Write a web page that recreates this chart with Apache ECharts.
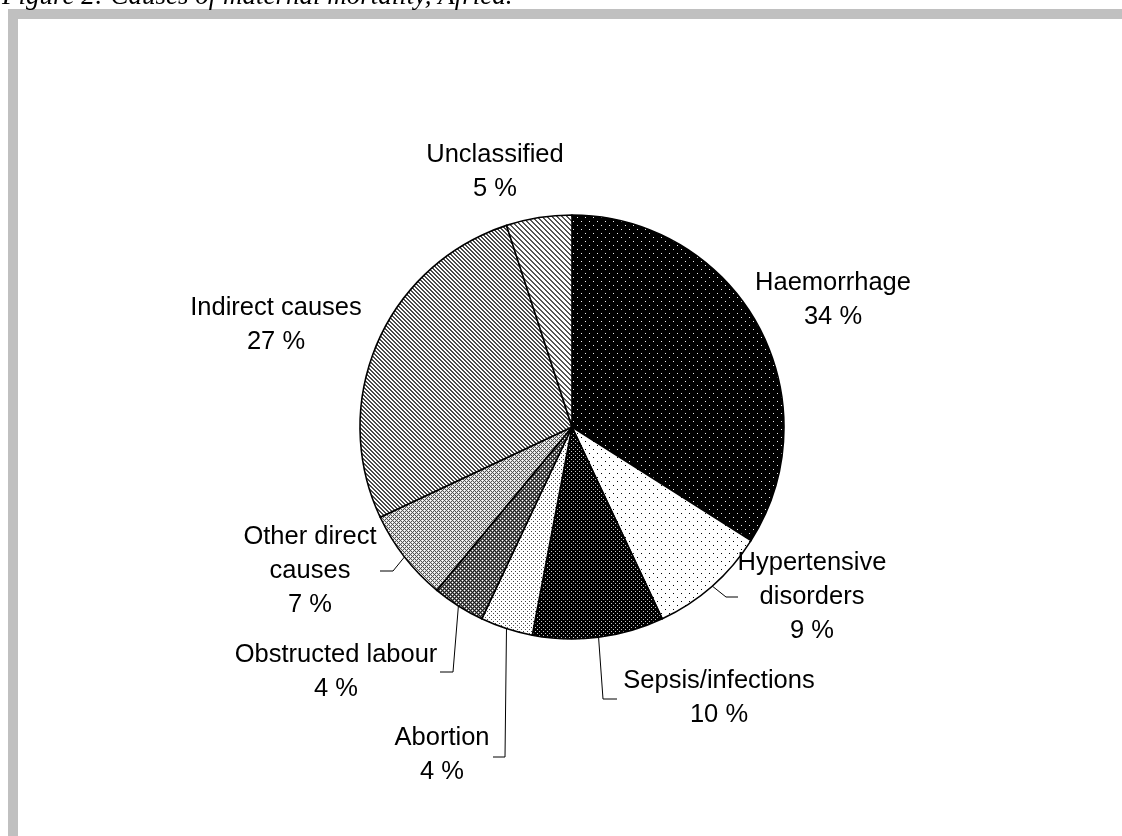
<!DOCTYPE html>
<html>
<head>
<meta charset="utf-8">
<script src="https://cdn.jsdelivr.net/npm/echarts/dist/echarts.min.js"></script>
<style>
  html, body { margin: 0; padding: 0; background: #fff; }
  #chart { width: 1122px; height: 836px; }
</style>
</head>
<body>
<div id="chart"></div>
<script>
// Causes of maternal mortality in Africa, share of deaths (%)
const categories = [
  'Haemorrhage', 'Hypertensive disorders', 'Sepsis/infections', 'Abortion',
  'Obstructed labour', 'Other direct causes', 'Indirect causes', 'Unclassified'
];
const shares = [34, 9, 10, 4, 4, 7, 27, 5];
// how each category name wraps in its label
const labelNames = [
  'Haemorrhage', 'Hypertensive\ndisorders', 'Sepsis/infections', 'Abortion',
  'Obstructed labour', 'Other direct\ncauses', 'Indirect causes', 'Unclassified'
];
const figureTitle = 'Figure 2: Causes of maternal mortality, Africa.';

// ---- layout ----
const PIE_CENTER = [572, 427];
const PIE_RADIUS = 212;
// label block centre, relative to the pie centre
const labelOffset = [
  [261, -127], [240, 170], [147, 271], [-130, 328],
  [-236, 245], [-262, 144], [-296, -102], [-77, -255]
];
// leader line bend and end, relative to the label centre (null = no leader)
const leaderPath = [
  null,
  [[-86, 0], [-74, 0]],
  [[-116, 1], [-102, 1]],
  [[63, 2], [51, 2]],
  [[117, 0], [104, 0]],
  [[83, 0], [70, 0]],
  null,
  null
];

// ---- monochrome fill patterns ----
function makeTile(size, bg, paint) {
  const c = document.createElement('canvas');
  c.width = size; c.height = size;
  const g = c.getContext('2d');
  g.fillStyle = bg;
  g.fillRect(0, 0, size, size);
  for (let y = 0; y < size; y++) {
    for (let x = 0; x < size; x++) {
      const col = paint(x, y);
      if (col) { g.fillStyle = col; g.fillRect(x, y, 1, 1); }
    }
  }
  return { image: c, repeat: 'repeat' };
}
const sparseDot = (x, y) => (x === 1 && y === 1) || (x === 5 && y === 5);
const denseDot = (x, y) => (x % 2 === 1) && (y % 2 === 1) && (((x + y) % 4) === 2);
const meshLine = (x, y) => (x - y + 4) % 4 === 0 || (x + y) % 4 === 0;
const meshHole = (x, y) => (x === 0 && y === 2) || (x === 2 && y === 0);

const patterns = [
  makeTile(8, '#000', (x, y) => sparseDot(x, y) ? '#f0f0f0' : null),
  makeTile(8, '#fff', (x, y) => sparseDot(x, y) ? '#000' : null),
  makeTile(8, '#000', (x, y) => denseDot(x, y) ? '#c8c8c8' : null),
  makeTile(8, '#fff', (x, y) => denseDot(x, y) ? '#444' : null),
  makeTile(4, '#777', (x, y) => meshLine(x, y) ? '#1a1a1a' : (meshHole(x, y) ? '#fff' : null)),
  makeTile(4, '#ddd', (x, y) => meshLine(x, y) ? '#555' : (meshHole(x, y) ? '#fff' : null)),
  makeTile(4, '#fff', (x, y) => ((x - y + 4) % 4 < 2) ? '#4a4a4a' : null),
  makeTile(5, '#fff', (x, y) => ((x - y + 5) % 5 < 2) ? '#555' : null)
];

const pieData = categories.map((name, i) => ({
  name: name,
  value: shares[i],
  itemStyle: { color: patterns[i] },
  labelLine: { show: leaderPath[i] !== null }
}));

const chart = echarts.init(document.getElementById('chart'), null, { renderer: 'canvas' });

chart.setOption({
  backgroundColor: '#fff',
  animation: false,
  graphic: [
    // grey frame (top and left edges)
    { type: 'rect', shape: { x: 8, y: 9, width: 1114, height: 10 }, style: { fill: '#c0c0c0' }, silent: true },
    { type: 'rect', shape: { x: 8, y: 9, width: 10, height: 827 }, style: { fill: '#c0c0c0' }, silent: true },
    {
      type: 'text', x: 2, y: -3, silent: true,
      style: {
        text: figureTitle,
        font: 'italic 27px "Liberation Serif", "Times New Roman", serif',
        fill: '#000',
        verticalAlign: 'middle'
      }
    }
  ],
  series: [{
    type: 'pie',
    center: PIE_CENTER,
    radius: PIE_RADIUS,
    startAngle: 90,
    clockwise: true,
    avoidLabelOverlap: false,
    silent: true,
    itemStyle: { borderColor: '#000', borderWidth: 1.6 },
    label: {
      show: true,
      position: 'outside',
      formatter: p => labelNames[p.dataIndex] + '\n' + p.value + ' %',
      fontFamily: '"Liberation Sans", Arial, sans-serif',
      fontSize: 25.5,
      lineHeight: 34,
      color: '#000'
    },
    labelLine: {
      show: true,
      length: 10,
      length2: 10,
      smooth: false,
      lineStyle: { color: '#000', width: 1 }
    },
    labelLayout: function (params) {
      const i = params.dataIndex;
      const cx = PIE_CENTER[0] + labelOffset[i][0];
      const cy = PIE_CENTER[1] + labelOffset[i][1];
      const out = { x: cx, y: cy, align: 'center', verticalAlign: 'middle' };
      const path = leaderPath[i];
      if (path && params.labelLinePoints) {
        const start = params.labelLinePoints[0];
        out.labelLinePoints = [
          start,
          [cx + path[0][0], cy + path[0][1]],
          [cx + path[1][0], cy + path[1][1]]
        ];
      }
      return out;
    },
    data: pieData
  }]
});
</script>
</body>
</html>
